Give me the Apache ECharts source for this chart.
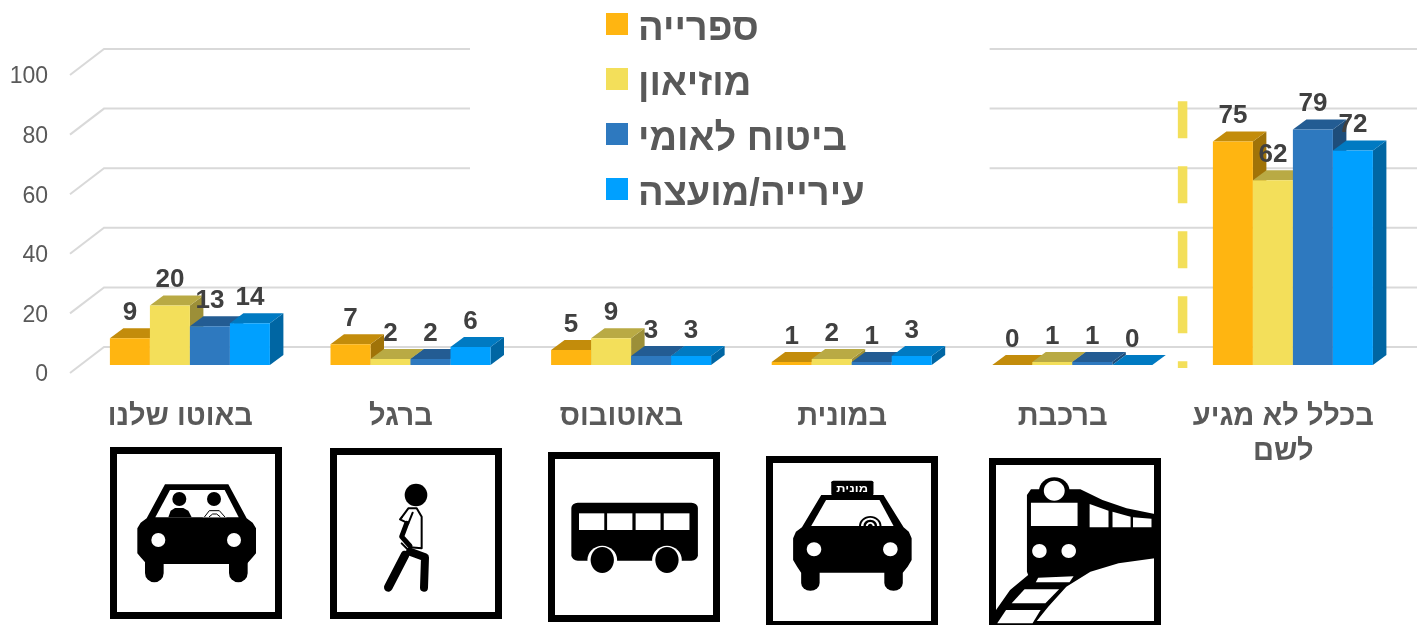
<!DOCTYPE html>
<html><head><meta charset="utf-8">
<style>html,body{margin:0;padding:0;background:#fff;overflow:hidden}#c{width:1417px;height:625px}</style>
<script src="https://cdn.jsdelivr.net/npm/echarts@6/dist/echarts.min.js"></script>
</head><body><div id="c"></div>
<script>
const categories = ['באוטו שלנו','ברגל','באוטובוס','במונית','ברכבת','בכלל לא מגיע\nלשם'];
const seriesNames = ['ספרייה','מוזיאון','ביטוח לאומי','עירייה/מועצה'];
const library = [9,7,5,1,0,75];
const museum = [20,2,9,2,1,62];
const nationalInsurance = [13,2,3,1,1,79];
const municipality = [14,6,3,3,0,72];
const gridTicks = [0,20,40,60,80,100];
const frontColors = ['#FFB511','#F3DF5A','#2E79BF','#00A0FF'];
const topColors = ['#C38C0B','#B9AA44','#235C93','#007AC2'];
const sideColors = ['#A07308','#9C8F38','#1E4D7A','#0066A3'];

const FONT = '"Liberation Sans", Arial, sans-serif';
const BAR_RATIO = 40/220.6, DX = 13.5, DY = 10, SHIFT_X = 9.6, SHIFT_Y = -8;

function barSeries(name, values, s){
  return {
    name, type:'custom', z:3, coordinateSystem:'cartesian2d',
    itemStyle:{color:frontColors[s]},
    encode:{x:0,y:1},
    data:values.map((v,i)=>[i,v]),
    renderItem(params, api){
      const i=api.value(0), v=api.value(1);
      const t=api.coord([i,v]), b=api.coord([i,0]);
      const w=api.size([1,0])[0]*BAR_RATIO;
      const x=t[0]+SHIFT_X+(s-2)*w, yt=t[1]+SHIFT_Y, yb=b[1]+SHIFT_Y;
      return {type:'group',children:[
        {type:'polygon',shape:{points:[[x+w,yt],[x+w+DX,yt-DY],[x+w+DX,yb-DY],[x+w,yb]]},style:{fill:sideColors[s]}},
        {type:'polygon',shape:{points:[[x,yt],[x+DX,yt-DY],[x+w+DX,yt-DY],[x+w,yt]]},style:{fill:topColors[s]}},
        {type:'rect',shape:{x:x,y:yt,width:w,height:yb-yt},style:{fill:frontColors[s]}},
        {type:'text',z2:100,x:x+w/2,y:yt-25.5,style:{text:String(v),fill:'#404040',font:'bold 26px '+FONT,textAlign:'center',textVerticalAlign:'middle'}}
      ]};
    }
  };
}

const wall = {
  name:'wall', type:'custom', z:1, silent:true, encode:{x:0,y:1},
  data:gridTicks.map(v=>[0,v]),
  renderItem(params, api){
    const c=api.coord([0,api.value(1)]);
    const bw=api.size([1,0])[0], l=c[0]-bw/2;
    return {type:'polyline',shape:{points:[[l,c[1]],[l+34,c[1]-26],[api.getWidth(),c[1]-26]]},
      style:{fill:null,stroke:'#D9D9D9',lineWidth:2}};
  }
};

const separator = {
  name:'separator', type:'custom', z:2, silent:true, encode:{x:0,y:1},
  data:[[4,88.5]],
  renderItem(params, api){
    const t=api.coord([4,api.value(1)]), b=api.coord([4,0]);
    const x=t[0]+api.size([1,0])[0]/2+SHIFT_X;
    return {type:'line',shape:{x1:x,y1:t[1]+SHIFT_Y,x2:x,y2:b[1]+SHIFT_Y+3},
      style:{stroke:'#F3DF5A',lineWidth:9.5,lineDash:[37,28]}};
  }
};

/* icon helpers */
const BK='#000', WH='#fff';
const P=(pts,fill)=>({type:'polygon',shape:{points:pts},style:{fill:fill||BK}});
const C=(x,y,r,fill)=>({type:'circle',shape:{cx:x,cy:y,r},style:{fill:fill||BK}});
const E=(x,y,rx,ry,fill)=>({type:'ellipse',shape:{cx:x,cy:y,rx,ry},style:{fill:fill||BK}});
const R=(x,y,w,h,fill,r)=>({type:'rect',shape:{x,y,width:w,height:h,r:r||0},style:{fill:fill||BK}});
const L=(pts,lw,col)=>({type:'polyline',shape:{points:pts},style:{fill:null,stroke:col||BK,lineWidth:lw,lineCap:'round',lineJoin:'round'}});
const frame=(x,y,w,h)=>({type:'group',children:[R(x,y,w,h,BK),R(x+7,y+7,w-14,h-14,WH)]});
const G=(x,y,sx,sy,children)=>({type:'group',x,y,scaleX:sx,scaleY:sy,children});

const carIcon = G(100,440,1/3,1/3,[
  P([[195,133],[385,133],[440,235],[458,248],[468,265],[468,340],[458,352],[440,372],[140,372],[122,352],[112,340],[112,265],[122,248],[140,235]]),
  R(135,340,56,87,BK,28),R(387,340,56,87,BK,28),
  P([[210,150],[374,150],[416,232],[166,232]],WH),
  C(238,177,21), P([[205,232],[212,212],[225,204],[250,204],[265,212],[275,232]]),
  C(342,177,21), P([[308,232],[318,208],[366,208],[380,232]],WH),
  L([[314,230],[328,212],[358,212],[374,230]],3),
  L([[328,230],[338,222],[350,222],[360,230]],3),
  C(175,300,21,WH), C(402,300,21,WH)
]);
const walkIcon = G(100,440,1/3,1/3,[
  C(948,165,34),
  L([[905,232],[925,205],[950,205],[965,230],[965,325],[930,322]],6),
  L([[905,232],[900,238],[925,250],[938,218]],6),
  L([[920,250],[905,290],[930,318]],15),
  L([[905,310],[925,330]],6),
  L([[915,345],[865,442]],26),
  L([[930,335],[975,352],[972,443]],24)
]);
const busIcon = G(540,440,1/2.489,1/3,[
  R(78,188,315,174,BK,16),
  R(97,220,63,50,WH),R(167,220,63,50,WH),R(238,220,62,50,WH),R(308,220,64,50,WH),
  E(155,360,37,43,WH),E(155,360,29,39),
  E(316,360,37,43,WH),E(316,360,29,39)
]);
const taxiIcon = G(540,440,1/2.489,1/3,[
  R(725,122,105,45,BK,5),
  {type:'text',x:777,y:146,style:{text:'מונית',fill:WH,font:'bold 32px '+FONT,textAlign:'center',textVerticalAlign:'middle'}},
  P([[700,165],[855,165],[905,262],[918,275],[925,295],[925,360],[915,380],[903,398],[650,398],[640,380],[630,360],[630,295],[637,275],[652,262]]),
  R(650,370,46,82,BK,23),R(857,370,46,82,BK,23),
  P([[712,180],[845,180],[880,258],[675,258]],WH),
  E(822,258,28,30),E(822,258,23,25,WH),E(822,258,17,19),E(822,258,11,12,WH),E(822,258,6,7),
  R(780,258,80,40),
  E(682,328,18,21,WH),E(872,328,18,21,WH)
]);
const trainIcon = G(540,440,1/2.489,1/3,[
  P([[1212,165],[1222,148],[1345,148],[1400,180],[1460,205],[1530,222],[1530,355],[1440,370],[1370,395],[1310,440],[1265,500],[1232,550],[1132,550],[1132,515],[1170,450],[1215,405],[1212,395]]),
  E(1280,152,38,40),E(1280,152,26,30,WH),
  R(1222,188,116,70,WH),
  P([[1368,192],[1415,212],[1415,262],[1368,262]],WH),
  P([[1425,215],[1470,230],[1470,262],[1425,262]],WH),
  P([[1476,232],[1522,236],[1522,262],[1476,262]],WH),
  E(1243,333,18,21,WH),E(1316,333,18,21,WH),
  P([[1240,413],[1328,409],[1318,427],[1234,427]],WH),
  P([[1206,448],[1292,448],[1258,490],[1174,490]],WH),
  P([[1160,510],[1246,510],[1226,550],[1138,550]],WH)
]);

const chart = echarts.init(document.getElementById('c'),null,{renderer:'canvas'});
chart.setOption({
  animation:false,
  backgroundColor:'#fff',
  textStyle:{fontFamily:FONT},
  grid:{left:70,right:23.4,top:75,bottom:252,containLabel:false},
  legend:{
    data:seriesNames, orient:'vertical', left:470, top:0,
    padding:[10.5,125,2,136], itemWidth:22, itemHeight:22, itemGap:17, icon:'rect',
    backgroundColor:'#fff', selectedMode:false,
    formatter:'{a|{name}}',
    textStyle:{rich:{a:{fontFamily:FONT,fontSize:38,fontWeight:'bold',color:'#595959',padding:[11,0,0,5]}}}
  },
  xAxis:{type:'category',data:categories,
    axisLine:{show:false},axisTick:{show:false},splitLine:{show:false},
    axisLabel:{interval:0,margin:26.5,fontFamily:FONT,fontSize:29,fontWeight:'bold',color:'#595959',lineHeight:35}},
  yAxis:{type:'value',min:0,max:100,interval:20,
    axisLine:{show:false},axisTick:{show:false},splitLine:{show:false},
    axisLabel:{margin:22,formatter:'{a|{value}}',
      rich:{a:{fontFamily:FONT,fontSize:23,color:'#595959',padding:[4,0,0,0]}}}},
  series:[wall,separator,
    barSeries(seriesNames[0],library,0),
    barSeries(seriesNames[1],museum,1),
    barSeries(seriesNames[2],nationalInsurance,2),
    barSeries(seriesNames[3],municipality,3)],
  graphic:{elements:[
    frame(110,447,172,172),frame(330,448,172,171),frame(548,452,172,170),frame(766,456,172,172),frame(989,458,172,170),
    carIcon,walkIcon,busIcon,taxiIcon,trainIcon
  ]}
});
</script></body></html>
